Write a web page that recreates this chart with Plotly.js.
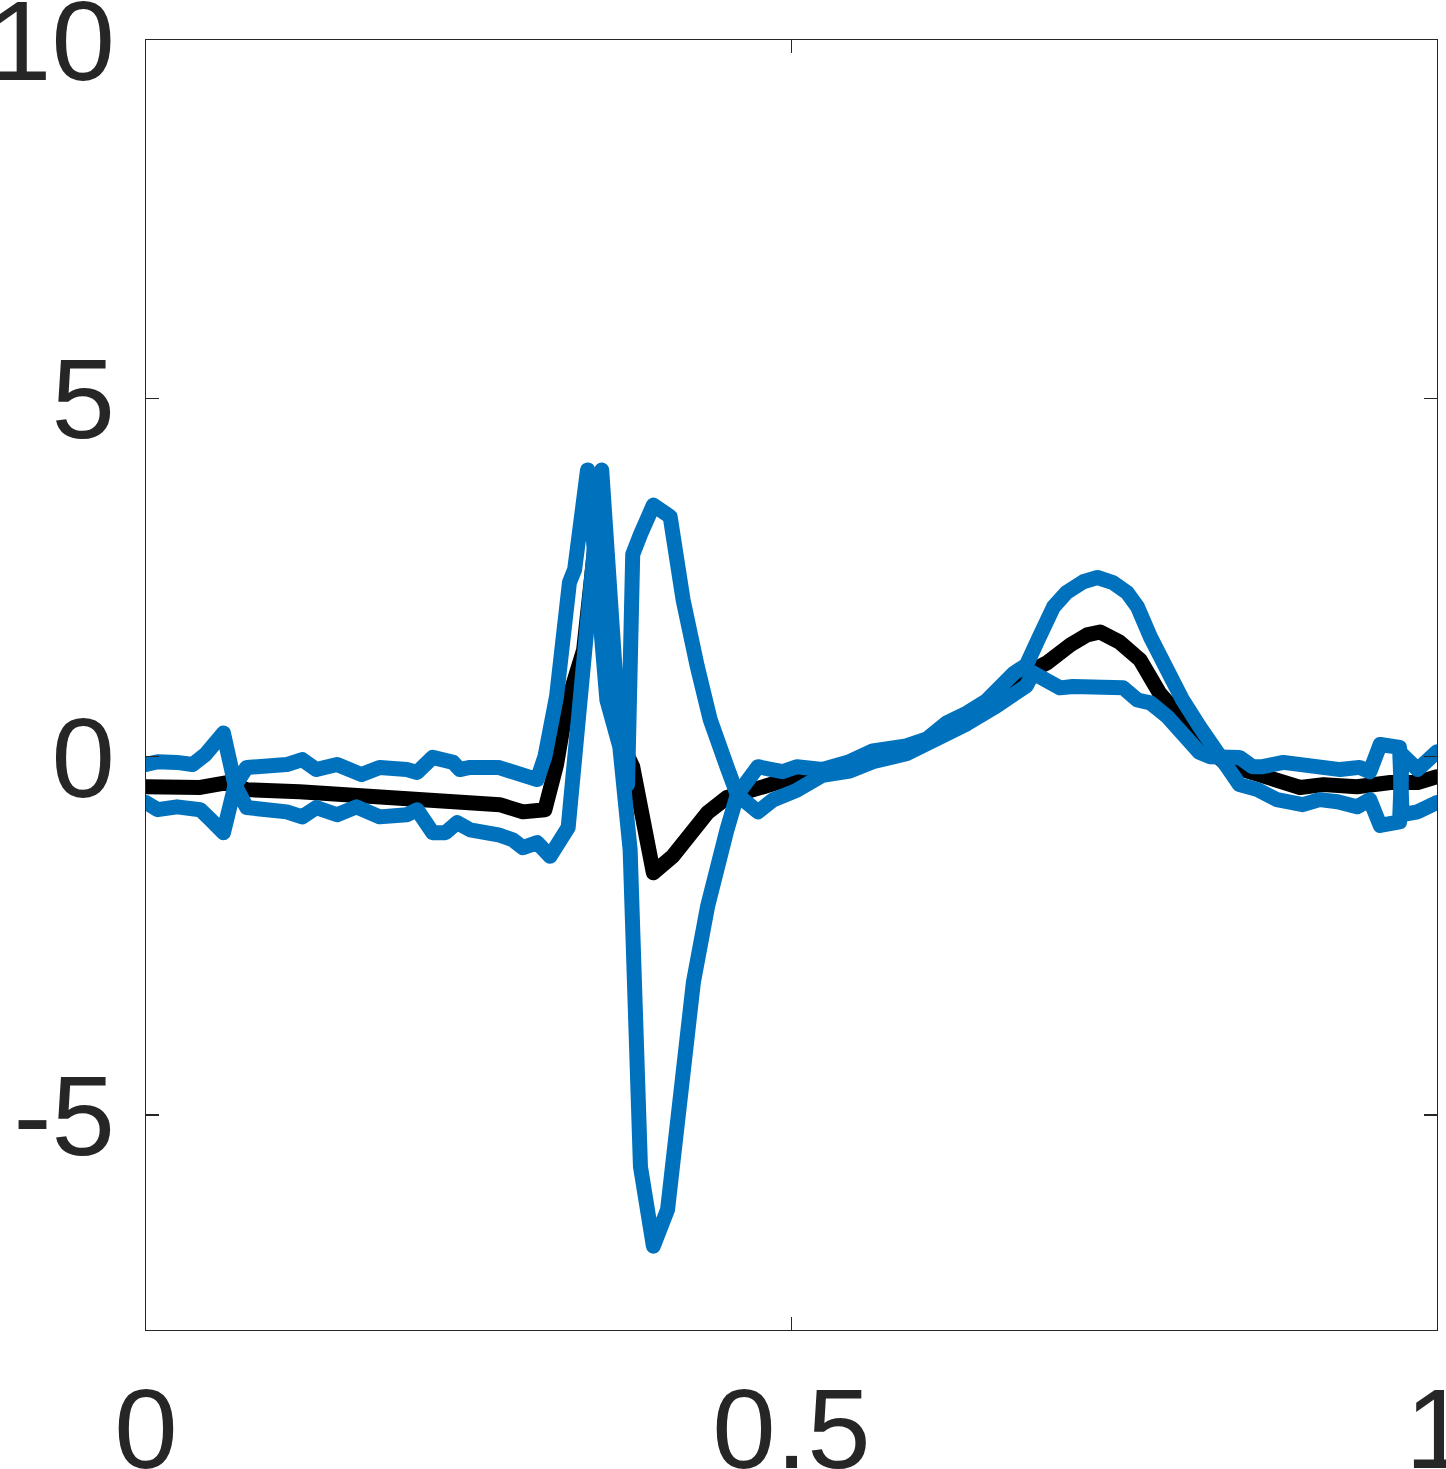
<!DOCTYPE html>
<html>
<head>
<meta charset="utf-8">
<script src="https://cdn.plot.ly/plotly-3.0.1.min.js"></script>
<style>
  html, body { margin: 0; padding: 0; background: #ffffff; }
  #chart { width: 1446px; height: 1469px; }
  #chart .scatterlayer path.js-line { stroke-linejoin: round !important; stroke-linecap: round !important; }
</style>
</head>
<body>
<div id="chart"></div>
<script>
// Mean curve (black)
const meanX = [0.000, 0.042, 0.064, 0.078, 0.119, 0.160, 0.210, 0.241, 0.274, 0.292, 0.300, 0.309, 0.318, 0.326, 0.339, 0.345, 0.350, 0.355, 0.361, 0.367, 0.377, 0.393, 0.408, 0.427, 0.435, 0.450, 0.458, 0.476, 0.491, 0.504, 0.524, 0.545, 0.563, 0.589, 0.605, 0.620, 0.636, 0.651, 0.672, 0.687, 0.698, 0.716, 0.729, 0.739, 0.754, 0.770, 0.785, 0.803, 0.816, 0.837, 0.873, 0.894, 0.912, 0.938, 0.964, 0.985, 1.000];
const meanY = [-0.42, -0.43, -0.36, -0.46, -0.49, -0.53, -0.56, -0.60, -0.67, -0.77, -0.78, -0.74, -0.11, 0.73, 1.49, 2.75, 3.31, 2.75, 1.49, 0.24, -0.14, -1.62, -1.39, -0.92, -0.78, -0.57, -0.52, -0.43, -0.35, -0.32, -0.22, -0.14, 0.01, 0.10, 0.21, 0.38, 0.54, 0.74, 1.07, 1.21, 1.31, 1.56, 1.70, 1.74, 1.60, 1.35, 0.89, 0.52, 0.24, -0.11, -0.32, -0.43, -0.39, -0.42, -0.36, -0.36, -0.28];

// Upper band curve (blue)
const upperX = [0.000, 0.009, 0.024, 0.036, 0.046, 0.060, 0.069, 0.078, 0.109, 0.121, 0.132, 0.148, 0.167, 0.181, 0.202, 0.210, 0.222, 0.238, 0.243, 0.251, 0.273, 0.286, 0.303, 0.309, 0.318, 0.328, 0.332, 0.342, 0.357, 0.367, 0.375, 0.383, 0.393, 0.404, 0.414, 0.424, 0.435, 0.442, 0.450, 0.458, 0.474, 0.493, 0.504, 0.524, 0.545, 0.563, 0.589, 0.605, 0.620, 0.636, 0.651, 0.672, 0.682, 0.692, 0.703, 0.713, 0.726, 0.737, 0.749, 0.760, 0.768, 0.778, 0.791, 0.803, 0.816, 0.832, 0.847, 0.861, 0.876, 0.896, 0.909, 0.923, 0.938, 0.948, 0.956, 0.971, 0.973, 0.985, 1.000];
const upperY = [-0.11, -0.07, -0.08, -0.11, 0.03, 0.33, -0.40, -0.15, -0.11, -0.04, -0.18, -0.11, -0.25, -0.15, -0.18, -0.22, -0.01, -0.08, -0.18, -0.15, -0.15, -0.21, -0.32, 0.00, 0.84, 2.43, 2.61, 4.00, 0.79, 0.14, -1.30, -5.72, -6.83, -6.32, -4.55, -3.15, -2.09, -1.53, -1.02, -0.53, -0.14, -0.21, -0.14, -0.18, -0.07, 0.08, 0.15, 0.25, 0.47, 0.61, 0.78, 1.16, 1.28, 1.67, 2.09, 2.29, 2.44, 2.50, 2.43, 2.29, 2.09, 1.67, 1.17, 0.79, 0.42, -0.04, -0.39, -0.46, -0.60, -0.67, -0.60, -0.63, -0.70, -0.60, -0.96, -0.91, 0.03, -0.18, 0.07];

// Lower band curve (blue)
const lowerX = [0.000, 0.009, 0.024, 0.042, 0.050, 0.060, 0.069, 0.078, 0.109, 0.121, 0.132, 0.148, 0.163, 0.181, 0.202, 0.210, 0.222, 0.232, 0.241, 0.251, 0.273, 0.284, 0.292, 0.303, 0.313, 0.323, 0.327, 0.353, 0.367, 0.373, 0.377, 0.383, 0.393, 0.406, 0.416, 0.427, 0.437, 0.450, 0.458, 0.474, 0.486, 0.504, 0.524, 0.545, 0.563, 0.589, 0.605, 0.620, 0.636, 0.659, 0.682, 0.687, 0.698, 0.708, 0.718, 0.747, 0.757, 0.768, 0.778, 0.791, 0.806, 0.816, 0.824, 0.837, 0.847, 0.857, 0.865, 0.881, 0.896, 0.912, 0.925, 0.940, 0.948, 0.956, 0.971, 0.973, 0.985, 1.000];
const lowerY = [-0.64, -0.74, -0.70, -0.74, -0.88, -1.06, -0.40, -0.71, -0.77, -0.84, -0.71, -0.81, -0.70, -0.84, -0.81, -0.74, -1.06, -1.06, -0.92, -1.02, -1.09, -1.16, -1.27, -1.20, -1.39, -1.06, -0.99, 4.00, 0.24, -0.39, 2.82, 3.10, 3.51, 3.35, 2.19, 1.26, 0.52, -0.14, -0.53, -0.77, -0.60, -0.47, -0.26, -0.20, -0.07, 0.04, 0.18, 0.29, 0.46, 0.71, 0.99, 1.17, 1.07, 0.96, 0.98, 1.00, 0.96, 0.79, 0.75, 0.56, 0.24, 0.06, 0.00, 0.00, -0.01, -0.14, -0.14, -0.08, -0.11, -0.18, -0.18, -0.15, -0.21, 0.17, 0.13, -0.81, -0.77, -0.64];

// Axis ticks
const xTickVals = [0, 0.5, 1];
const xTickText = ['0', '0.5', '1'];
const yTickVals = [-5, 0, 5, 10];
const yTickText = ['-5', '0', '5', '10'];

const BLUE = '#0072BD';
const INK = '#262626';
const LW = 15;

const traces = [
  { x: meanX, y: meanY, type: 'scatter', mode: 'lines', line: { color: '#000000', width: LW }, hoverinfo: 'skip' },
  { x: upperX, y: upperY, type: 'scatter', mode: 'lines', line: { color: BLUE, width: LW }, hoverinfo: 'skip' },
  { x: lowerX, y: lowerY, type: 'scatter', mode: 'lines', line: { color: BLUE, width: LW }, hoverinfo: 'skip' }
];

const tickFont = { family: 'Liberation Sans, Arial, Helvetica, sans-serif', size: 114, color: INK };

const axisCommon = {
  showgrid: false,
  zeroline: false,
  showline: true,
  linecolor: INK,
  linewidth: 1.3,
  mirror: 'ticks',
  ticks: 'inside',
  ticklen: 13,
  tickwidth: 1.3,
  tickcolor: INK,
  tickmode: 'array',
  tickfont: tickFont,
  ticklabeloverflow: 'allow',
  fixedrange: true
};

const layout = {
  width: 1446,
  height: 1469,
  margin: { l: 146, r: 9, t: 40, b: 139, pad: 0 },
  paper_bgcolor: '#ffffff',
  plot_bgcolor: '#ffffff',
  showlegend: false,
  xaxis: Object.assign({}, axisCommon, {
    range: [0, 1],
    tickvals: xTickVals,
    ticktext: xTickText,
    ticklabelstandoff: 0
  }),
  yaxis: Object.assign({}, axisCommon, {
    range: [-8, 10],
    tickvals: yTickVals,
    ticktext: yTickText,
    ticklabelstandoff: 7
  })
};

Plotly.newPlot('chart', traces, layout, { staticPlot: true, displayModeBar: false });
</script>
</body>
</html>
